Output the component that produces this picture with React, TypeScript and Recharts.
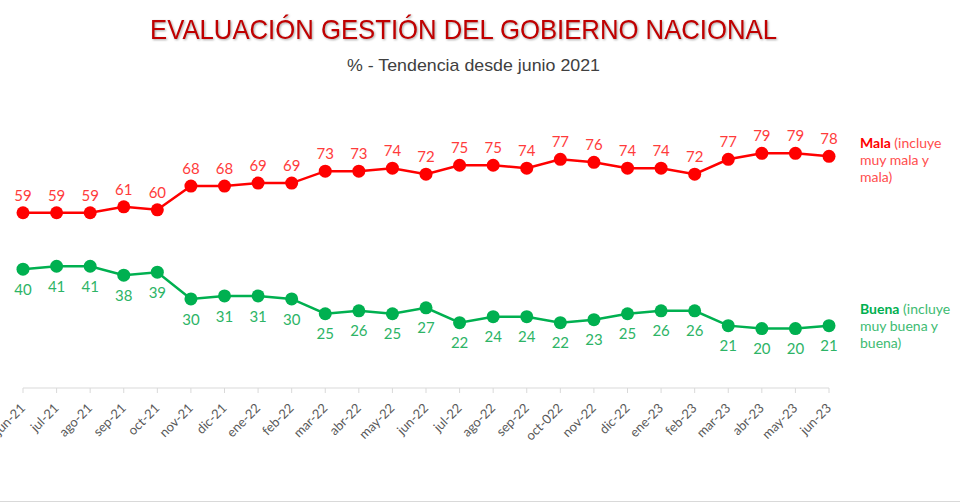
import { LineChart, Line, XAxis, YAxis, LabelList } from "recharts";

const months = [
  "jun-21", "jul-21", "ago-21", "sep-21", "oct-21", "nov-21", "dic-21", "ene-22",
  "feb-22", "mar-22", "abr-22", "may-22", "jun-22", "jul-22", "ago-22", "sep-22",
  "oct-022", "nov-22", "dic-22", "ene-23", "feb-23", "mar-23", "abr-23", "may-23", "jun-23",
];
const mala = [59, 59, 59, 61, 60, 68, 68, 69, 69, 73, 73, 74, 72, 75, 75, 74, 77, 76, 74, 74, 72, 77, 79, 79, 78];
const buena = [40, 41, 41, 38, 39, 30, 31, 31, 30, 25, 26, 25, 27, 22, 24, 24, 22, 23, 25, 26, 26, 21, 20, 20, 21];

const data = months.map((m, i) => ({ month: m, mala: mala[i], buena: buena[i] }));

const RED = "#FF0000";
const GREEN = "#00B050";
const FONT = "Lato, 'Noto Sans', sans-serif";

function MonthTick({ x, y, payload }: any) {
  return (
    <text
      x={x + 3}
      y={y + 16}
      transform={`rotate(-45, ${x + 3}, ${y + 16})`}
      textAnchor="end"
      fontSize={13}
      fontFamily={FONT}
      fill="#595959"
    >
      {payload.value}
    </text>
  );
}

export default function App() {
  return (
    <div style={{ position: "absolute", left: 0, top: 0, width: 960, height: 504, background: "#fff" }}>
      <svg width={960} height={90} style={{ position: "absolute", left: 0, top: 0 }}>
        <text
          x={150}
          y={39}
          textLength={627}
          lengthAdjust="spacingAndGlyphs"
          fontSize={28}
          fontFamily="'Liberation Sans Narrow', 'Liberation Sans', sans-serif"
          fill="#C00000"
          style={{ filter: "drop-shadow(1px 1px 1px rgba(0,0,0,0.35))" }}
        >
          EVALUACIÓN GESTIÓN DEL GOBIERNO NACIONAL
        </text>
        <text
          x={347}
          y={71}
          textLength={253}
          lengthAdjust="spacingAndGlyphs"
          fontSize={17}
          fontFamily="'Liberation Sans Narrow', 'Liberation Sans', sans-serif"
          fill="#404040"
        >
          % - Tendencia desde junio 2021
        </text>
      </svg>

      <div style={{ position: "absolute", left: 0, top: 0 }}>
        <LineChart
          width={960}
          height={504}
          data={data}
          margin={{ top: 91, right: 131, bottom: 56, left: 23 }}
        >
          <XAxis
            dataKey="month"
            interval={0}
            height={60}
            tickSize={5}
            tickMargin={0}
            stroke="#D9D9D9"
            tick={<MonthTick />}
          />
          <YAxis hide domain={[0, 100]} />
          <Line
            dataKey="mala"
            stroke={RED}
            strokeWidth={2.5}
            dot={{ r: 6.5, fill: RED, stroke: RED, strokeWidth: 0 }}
            isAnimationActive={false}
          >
            <LabelList dataKey="mala" position="top" offset={12} fill="#FF3B3B" fontSize={15} fontFamily={FONT} />
          </Line>
          <Line
            dataKey="buena"
            stroke={GREEN}
            strokeWidth={2.5}
            dot={{ r: 6.5, fill: GREEN, stroke: GREEN, strokeWidth: 0 }}
            isAnimationActive={false}
          >
            <LabelList dataKey="buena" position="bottom" offset={15} fill="#2DB466" fontSize={15} fontFamily={FONT} />
          </Line>
        </LineChart>
      </div>

      <div style={{ position: "absolute", left: 860, top: 134, fontFamily: FONT, fontSize: 14, lineHeight: "17px", color: "#FF4D4D", width: 100 }}>
        <b style={{ color: RED }}>Mala</b> (incluye muy mala y mala)
      </div>
      <div style={{ position: "absolute", left: 860, top: 300, fontFamily: FONT, fontSize: 14, lineHeight: "17px", color: "#3DBB72", width: 100 }}>
        <b style={{ color: GREEN }}>Buena</b> (incluye muy buena y buena)
      </div>
      <div style={{ position: "absolute", left: 0, top: 501, width: 960, height: 1, background: "#D9D9D9" }} />
    </div>
  );
}
